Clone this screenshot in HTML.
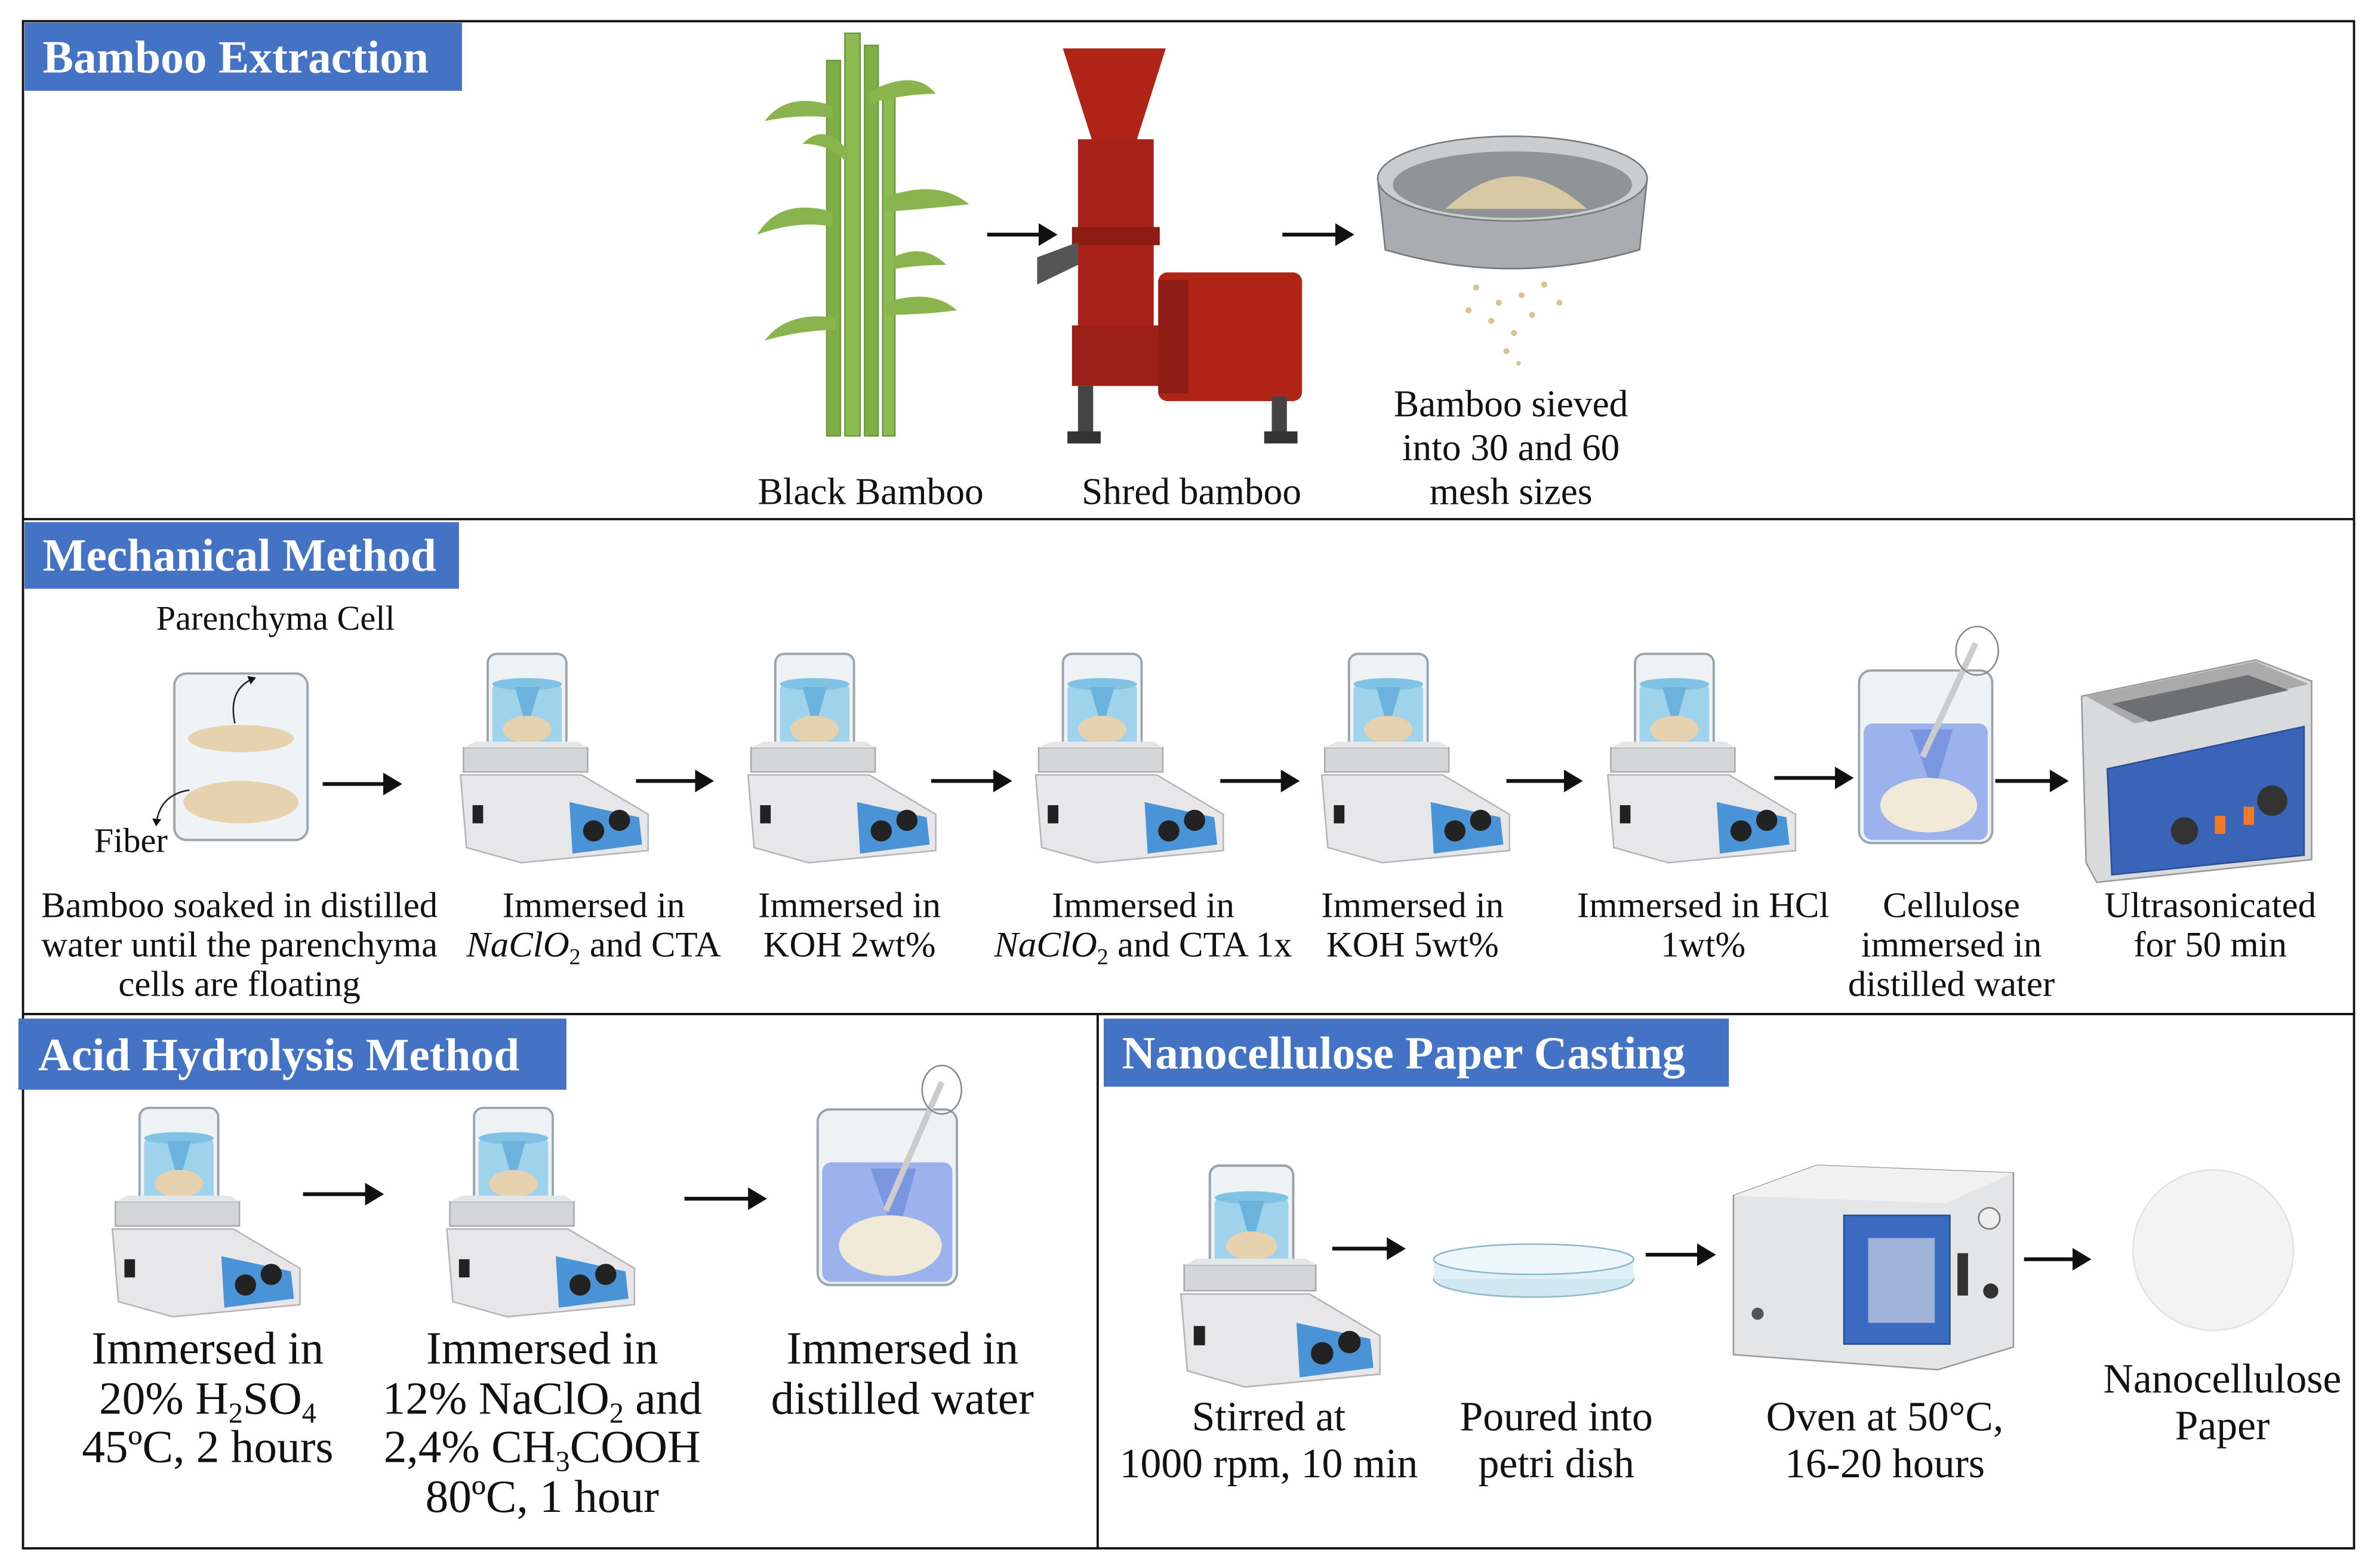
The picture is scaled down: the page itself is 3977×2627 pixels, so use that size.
<!DOCTYPE html>
<html><head><meta charset="utf-8"><style>
html,body{margin:0;padding:0;background:#fff;}
svg{display:block;}
text{font-family:"Liberation Serif",serif;fill:#111;}
.h{fill:#fff;font-size:30.5px;font-weight:bold;}
.l{font-size:24px;text-anchor:middle;}
.t{font-size:25px;text-anchor:middle;}
.a{font-size:30.5px;text-anchor:middle;}
.n{font-size:27.5px;text-anchor:middle;}
</style></head><body>
<svg width="3977" height="2627" viewBox="0 0 1568 1036" xmlns="http://www.w3.org/2000/svg">
<defs>
<marker id="ar" markerWidth="6" markerHeight="6" refX="4" refY="3" orient="auto" markerUnits="strokeWidth"><path d="M0,0 L5,3 L0,6 Z" fill="#111"/></marker>
<g id="beaker">
 <rect x="18" y="2" width="52" height="70" rx="6" fill="#eef2f4" stroke="#9aa4aa" stroke-width="1.5"/>
 <rect x="21" y="22" width="46" height="48" rx="4" fill="#9fd3ec"/>
 <ellipse cx="44" cy="22" rx="23" ry="4" fill="#7fc2e3"/>
 <path d="M36,24 L52,24 L46,45 L42,45Z" fill="#6bb3dc"/>
 <ellipse cx="44" cy="52" rx="16" ry="9" fill="#e6d2ae"/>
</g>
<g id="stir">
 <use href="#beaker"/>
 <polygon points="2,64 84,64 84,80 2,80" fill="#d4d6d8" stroke="#a9abad"/>
 <polygon points="10,60 78,60 84,64 2,64" fill="#e4e6e8"/>
 <polygon points="0,82 80,82 124,108 124,132 40,140 4,130" fill="#e7e7e9" stroke="#b5b5b8"/>
 <polygon points="72,100 118,110 120,128 74,134" fill="#4a93d6"/>
 <circle cx="88" cy="119" r="7" fill="#222"/>
 <circle cx="105" cy="112" r="7" fill="#222"/>
 <rect x="8" y="102" width="7" height="12" fill="#222"/>
</g>
</defs>
<rect width="1568" height="1036" fill="#fff"/>
<g fill="none" stroke="#111" stroke-width="1.5">
<rect x="15" y="14" width="1540" height="1009"/>
<line x1="15" y1="343" x2="1555" y2="343"/>
<line x1="15" y1="670" x2="1555" y2="670"/>
<line x1="725" y1="670" x2="725" y2="1023"/>
</g>
<rect x="16" y="15" width="289" height="45" fill="#4472c4"/>
<text class="h" x="28" y="48">Bamboo Extraction</text>
<rect x="16" y="345" width="287" height="44" fill="#4472c4"/>
<text class="h" x="28" y="377">Mechanical Method</text>
<rect x="12" y="673" width="362" height="47" fill="#4472c4"/>
<text class="h" x="25" y="707">Acid Hydrolysis Method</text>
<rect x="729" y="673" width="413" height="45" fill="#4472c4"/>
<text class="h" x="741" y="706">Nanocellulose Paper Casting</text>

<g stroke="#6a9a3a" stroke-width="1">
<rect x="546" y="40" width="9" height="248" fill="#7fae48"/>
<rect x="558" y="22" width="10" height="266" fill="#8bbb52"/>
<rect x="571" y="30" width="9" height="258" fill="#7fae48"/>
<rect x="583" y="60" width="8" height="228" fill="#8bbb52"/>
</g>
<g fill="#8ab54e">
<path d="M550,70 Q520,60 505,80 Q530,75 550,78Z"/><path d="M575,60 Q605,45 618,62 Q598,62 575,68Z"/>
<path d="M550,140 Q515,130 500,155 Q528,145 550,150Z"/><path d="M585,130 Q620,118 640,135 Q610,138 585,140Z"/>
<path d="M552,210 Q520,205 505,225 Q530,218 552,218Z"/><path d="M585,200 Q615,190 632,205 Q610,208 585,208Z"/>
<path d="M560,100 Q545,80 530,95 Q548,95 560,108Z"/><path d="M590,170 Q610,160 625,175 Q605,175 590,178Z"/>
</g>
<polygon points="702,32 770,32 750,95 722,95" fill="#b02418"/>
<rect x="712" y="92" width="50" height="135" fill="#a8221a"/>
<rect x="708" y="150" width="58" height="12" fill="#8c1c14"/>
<polygon points="685,170 712,160 712,175 685,188" fill="#555"/>
<rect x="708" y="215" width="62" height="40" fill="#9c2018"/>
<rect x="765" y="180" width="95" height="85" rx="6" fill="#b02418"/>
<rect x="765" y="185" width="20" height="75" fill="#8c1c14"/>
<rect x="712" y="255" width="10" height="38" fill="#444"/><rect x="840" y="262" width="10" height="30" fill="#444"/>
<rect x="705" y="285" width="22" height="8" fill="#333"/><rect x="835" y="285" width="22" height="8" fill="#333"/>
<path d="M910,118 L915,165 Q998,190 1083,165 L1088,118Z" fill="#a9adb0" stroke="#777"/>
<ellipse cx="999" cy="118" rx="89" ry="28" fill="#c9cdd0" stroke="#777"/>
<ellipse cx="999" cy="122" rx="79" ry="22" fill="#8f9497"/>
<path d="M955,138 Q1000,95 1048,138Z" fill="#d8c9a4"/>
<g fill="#d8c290"><circle cx="975" cy="190" r="2"/><circle cx="990" cy="200" r="2"/><circle cx="1005" cy="195" r="2"/><circle cx="1020" cy="188" r="2"/><circle cx="985" cy="212" r="2"/><circle cx="1000" cy="220" r="2"/><circle cx="1012" cy="208" r="2"/><circle cx="995" cy="232" r="2"/><circle cx="970" cy="205" r="2"/><circle cx="1030" cy="200" r="2"/><circle cx="1003" cy="240" r="1.5"/></g>
<g stroke="#111" stroke-width="2.5" marker-end="url(#ar)">
<line x1="652" y1="155" x2="696" y2="155"/><line x1="847" y1="155" x2="892" y2="155"/>
</g>
<text class="t" x="575" y="333">Black Bamboo</text>
<text class="t" x="787" y="333">Shred bamboo</text>
<text class="t" x="998" y="275">Bamboo sieved</text>
<text class="t" x="998" y="304">into 30 and 60</text>
<text class="t" x="998" y="333">mesh sizes</text>

<rect x="115" y="445" width="88" height="110" rx="8" fill="#f0f3f5" stroke="#9aa4aa" stroke-width="1.5"/>
<ellipse cx="159" cy="488" rx="35" ry="9" fill="#e6d2ae"/><ellipse cx="159" cy="530" rx="38" ry="14" fill="#e6d2ae"/>
<path d="M155,478 Q150,455 168,448" fill="none" stroke="#222" marker-end="url(#ar)"/>
<path d="M125,522 Q105,525 103,545" fill="none" stroke="#222" marker-end="url(#ar)"/>
<text x="103" y="416" style="font-size:23px">Parenchyma Cell</text>
<text x="62" y="563" style="font-size:23px">Fiber</text>
<use href="#stir" x="304" y="430"/><use href="#stir" x="494" y="430"/><use href="#stir" x="684" y="430"/><use href="#stir" x="873" y="430"/><use href="#stir" x="1062" y="430"/>
<rect x="1228" y="443" width="88" height="114" rx="8" fill="#eef2f4" stroke="#9aa4aa" stroke-width="1.5"/>
<rect x="1231" y="478" width="82" height="77" rx="6" fill="#9bb2ec"/>
<path d="M1262,482 L1290,482 L1280,515 L1274,515Z" fill="#7b96e0"/>
<ellipse cx="1274" cy="532" rx="32" ry="18" fill="#f2ead8"/>
<line x1="1270" y1="500" x2="1305" y2="425" stroke="#ccc" stroke-width="4"/>
<ellipse cx="1306" cy="430" rx="14" ry="16" fill="none" stroke="#888"/>
<polygon points="1375,460 1490,436 1527,450 1527,568 1385,583 1378,570" fill="#d9dadb" stroke="#999"/>
<polygon points="1378,460 1490,437 1525,452 1410,478" fill="#aaa"/>
<polygon points="1395,465 1485,446 1512,456 1420,477" fill="#6d6f72"/>
<polygon points="1392,508 1522,480 1522,565 1395,578" fill="#3a64b8" stroke="#2b4e98"/>
<circle cx="1443" cy="549" r="9" fill="#333"/><circle cx="1501" cy="529" r="10" fill="#333"/>
<rect x="1463" y="539" width="7" height="12" fill="#f07a2a"/><rect x="1482" y="533" width="7" height="12" fill="#f07a2a"/>
<g stroke="#111" stroke-width="2.5" marker-end="url(#ar)">
<line x1="213" y1="518" x2="263" y2="518"/><line x1="420" y1="516" x2="469" y2="516"/><line x1="615" y1="516" x2="666" y2="516"/>
<line x1="806" y1="516" x2="856" y2="516"/><line x1="995" y1="516" x2="1043" y2="516"/><line x1="1172" y1="514" x2="1222" y2="514"/><line x1="1318" y1="516" x2="1364" y2="516"/>
</g>
<text class="l" x="158" y="606">Bamboo soaked in distilled</text>
<text class="l" x="158" y="632">water until the parenchyma</text>
<text class="l" x="158" y="658">cells are floating</text>
<text class="l" x="392" y="606">Immersed in</text>
<text class="l" x="392" y="632"><tspan font-style="italic">NaClO</tspan><tspan font-size="15" dy="5">2</tspan><tspan dy="-5"> and CTA</tspan></text>
<text class="l" x="561" y="606">Immersed in</text>
<text class="l" x="561" y="632">KOH 2wt%</text>
<text class="l" x="755" y="606">Immersed in</text>
<text class="l" x="755" y="632"><tspan font-style="italic">NaClO</tspan><tspan font-size="15" dy="5">2</tspan><tspan dy="-5"> and CTA 1x</tspan></text>
<text class="l" x="933" y="606">Immersed in</text>
<text class="l" x="933" y="632">KOH 5wt%</text>
<text class="l" x="1125" y="606">Immersed in HCl</text>
<text class="l" x="1125" y="632">1wt%</text>
<text class="l" x="1289" y="606">Cellulose</text>
<text class="l" x="1289" y="632">immersed in</text>
<text class="l" x="1289" y="658">distilled water</text>
<text class="l" x="1460" y="606">Ultrasonicated</text>
<text class="l" x="1460" y="632">for 50 min</text>

<use href="#stir" x="74" y="730"/><use href="#stir" x="295" y="730"/>
<rect x="540" y="733" width="92" height="116" rx="8" fill="#eef2f4" stroke="#9aa4aa" stroke-width="1.5"/>
<rect x="543" y="768" width="86" height="79" rx="6" fill="#9bb2ec"/>
<path d="M575,772 L605,772 L595,808 L588,808Z" fill="#7b96e0"/>
<ellipse cx="588" cy="823" rx="34" ry="20" fill="#f2ead8"/>
<line x1="585" y1="800" x2="622" y2="715" stroke="#ccc" stroke-width="4"/>
<ellipse cx="622" cy="720" rx="13" ry="16" fill="none" stroke="#888"/>
<g stroke="#111" stroke-width="2.5" marker-end="url(#ar)">
<line x1="200" y1="789" x2="251" y2="789"/><line x1="452" y1="792" x2="504" y2="792"/>
</g>
<text class="a" x="137" y="901">Immersed in</text>
<text class="a" x="137" y="934">20% H<tspan font-size="19" dy="6">2</tspan><tspan dy="-6">SO</tspan><tspan font-size="19" dy="6">4</tspan></text>
<text class="a" x="137" y="966">45ºC, 2 hours</text>
<text class="a" x="358" y="901">Immersed in</text>
<text class="a" x="358" y="934">12% NaClO<tspan font-size="19" dy="6">2</tspan><tspan dy="-6"> and</tspan></text>
<text class="a" x="358" y="966">2,4% CH<tspan font-size="19" dy="6">3</tspan><tspan dy="-6">COOH</tspan></text>
<text class="a" x="358" y="999">80ºC, 1 hour</text>
<text class="a" x="596" y="901">Immersed in</text>
<text class="a" x="596" y="934">distilled water</text>

<use href="#stir" transform="translate(780,768) scale(1.06)"/>
<ellipse cx="1013" cy="845" rx="66" ry="12" fill="#cfe8f2" stroke="#8fb8c8"/>
<rect x="947" y="832" width="132" height="13" fill="#dff0f7"/>
<ellipse cx="1013" cy="832" rx="66" ry="10" fill="#eef7fb" stroke="#8fb8c8"/>
<polygon points="1145,790 1200,770 1330,775 1330,890 1280,905 1145,895" fill="#e4e5e6" stroke="#999"/>
<polygon points="1145,790 1200,770 1330,775 1285,795" fill="#f1f1f2"/>
<rect x="1218" y="803" width="70" height="85" fill="#3b6bc0" stroke="#2a4f90"/>
<rect x="1234" y="818" width="44" height="56" fill="#9fb4d8"/>
<rect x="1293" y="828" width="7" height="28" fill="#333"/>
<circle cx="1314" cy="805" r="7" fill="#eee" stroke="#777"/><circle cx="1315" cy="853" r="5" fill="#333"/>
<circle cx="1161" cy="868" r="4" fill="#555"/>
<circle cx="1462" cy="826" r="53" fill="#f3f3f3" stroke="#e2e2e2"/>
<g stroke="#111" stroke-width="2.5" marker-end="url(#ar)">
<line x1="880" y1="825" x2="926" y2="825"/><line x1="1087" y1="829" x2="1131" y2="829"/><line x1="1337" y1="832" x2="1379" y2="832"/>
</g>
<text class="n" x="838" y="945">Stirred at</text>
<text class="n" x="838" y="976">1000 rpm, 10 min</text>
<text class="n" x="1028" y="945">Poured into</text>
<text class="n" x="1028" y="976">petri dish</text>
<text class="n" x="1245" y="945">Oven at 50°C,</text>
<text class="n" x="1245" y="976">16-20 hours</text>
<text class="n" x="1468" y="920">Nanocellulose</text>
<text class="n" x="1468" y="951">Paper</text>
</svg>
</body></html>
